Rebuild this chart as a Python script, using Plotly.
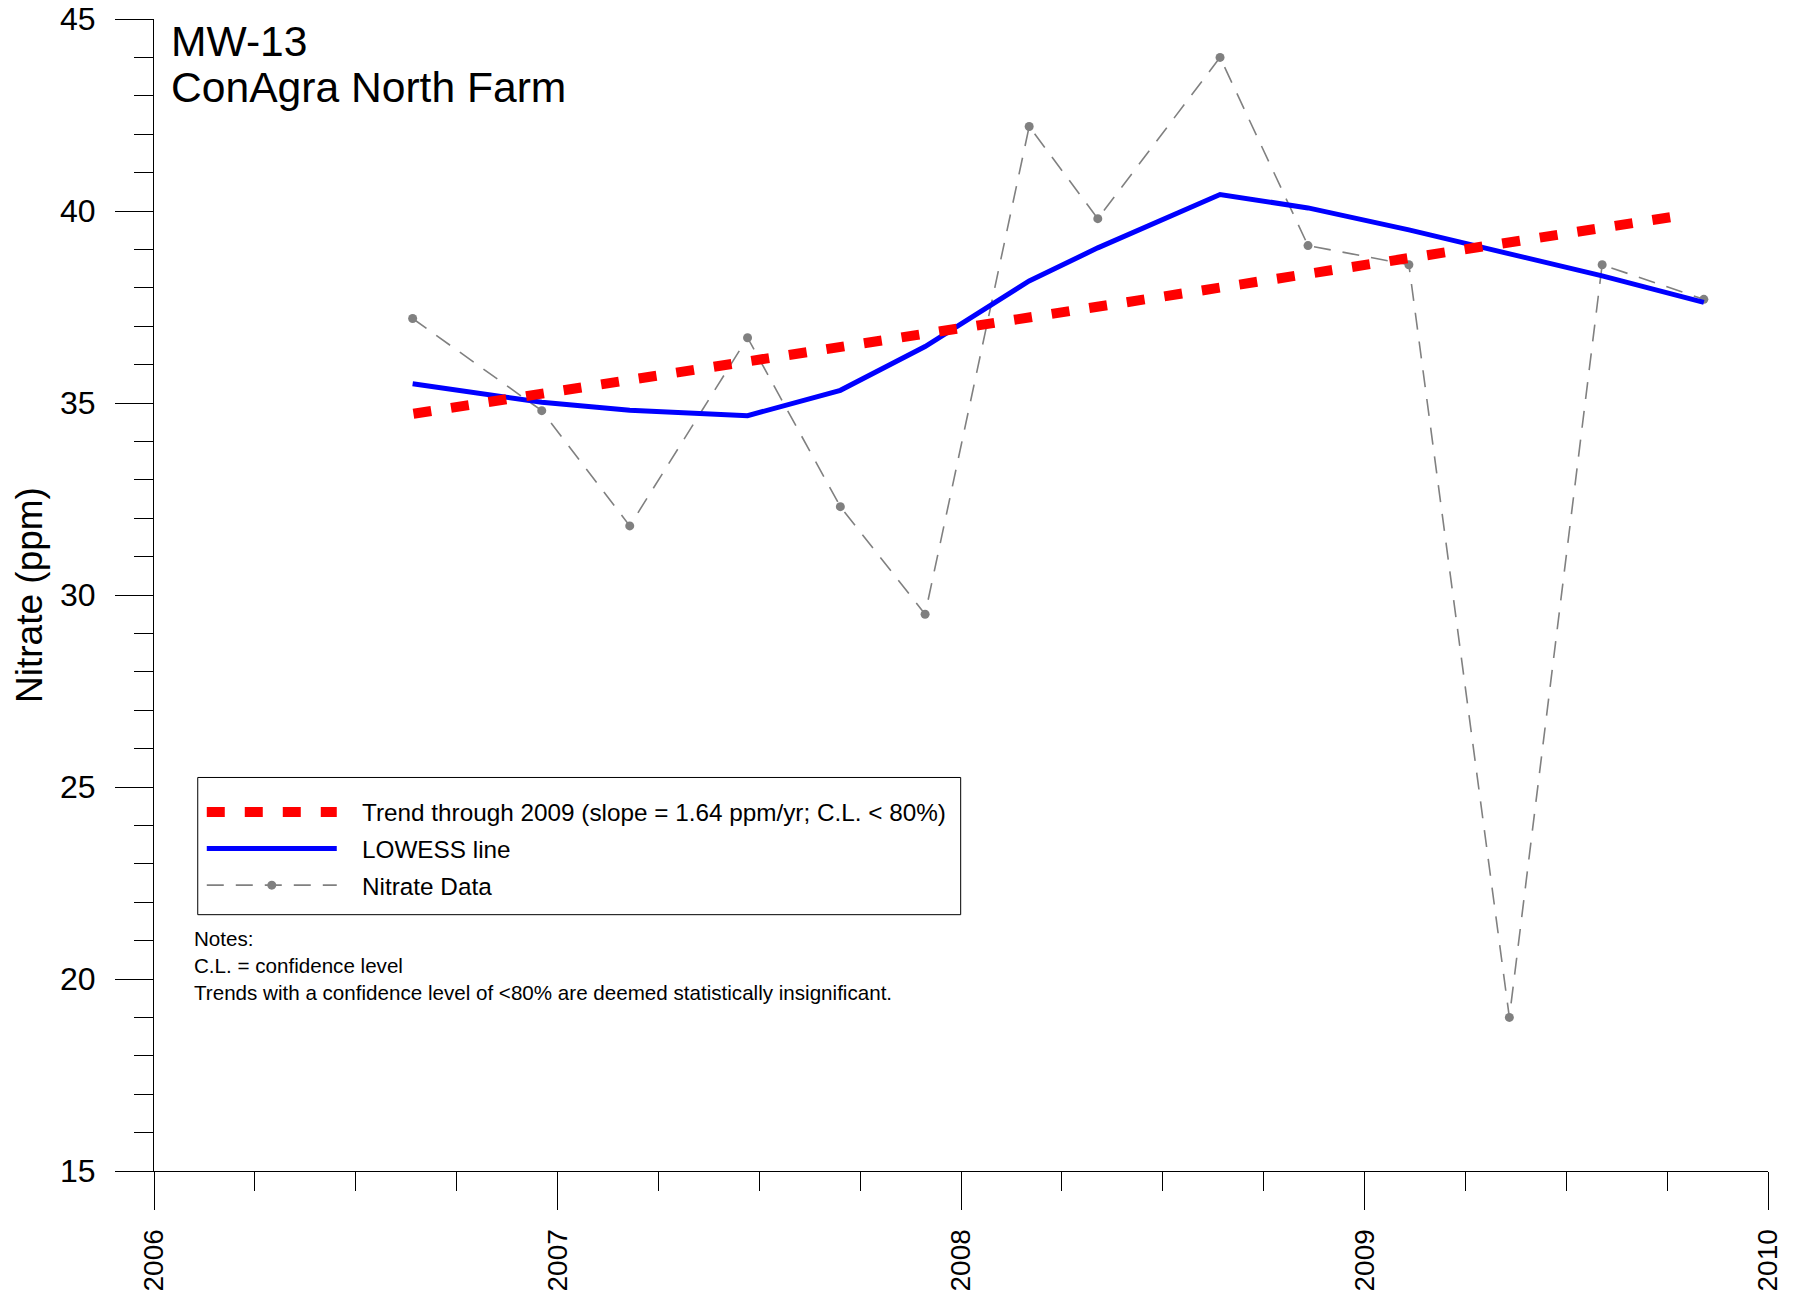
import plotly.graph_objects as go

FONT = "Arial, Liberation Sans, sans-serif"

# Nitrate samples at MW-13 (decimal year, ppm)
sample_year = [2006.641, 2006.961, 2007.179, 2007.471, 2007.701, 2007.911, 2008.169,
               2008.339, 2008.642, 2008.860, 2009.110, 2009.359, 2009.589, 2009.841]
nitrate_ppm = [37.2, 34.8, 31.8, 36.7, 32.3, 29.5, 42.2,
               39.8, 44.0, 39.1, 38.6, 19.0, 38.6, 37.7]

# LOWESS smooth evaluated at the sample dates
lowess_ppm = [35.50, 35.02, 34.81, 34.67, 35.33, 36.47, 38.18,
              39.04, 40.43, 40.08, 39.51, 38.90, 38.31, 37.62]

# Linear trend through 2009 (slope ~1.64 ppm/yr)
trend_year = [2006.643, 2009.795]
trend_ppm = [34.72, 39.90]

year_ticks = [2006, 2007, 2008, 2009, 2010]
ppm_ticks = [15, 20, 25, 30, 35, 40, 45]

NB = "\u00a0" * 3  # gap between legend symbol and label

fig = go.Figure()

fig.add_trace(go.Scatter(
    x=sample_year, y=nitrate_ppm,
    mode="lines+markers",
    name=NB + "Nitrate Data",
    legendgroup="c", legendrank=3,
    line=dict(color="#808080", width=1.6, dash="17px,12px"),
    marker=dict(color="#808080", size=9),
))

fig.add_trace(go.Scatter(
    x=sample_year, y=lowess_ppm,
    mode="lines",
    name=NB + "LOWESS line",
    legendgroup="b", legendrank=2,
    line=dict(color="#0000FF", width=5),
))

fig.add_trace(go.Scatter(
    x=trend_year, y=trend_ppm,
    mode="lines",
    name=NB + "Trend through 2009 (slope = 1.64 ppm/yr; C.L. < 80%)",
    legendgroup="a", legendrank=1,
    line=dict(color="#FF0000", width=10, dash="18px,20px"),
))

fig.update_layout(
    width=1793, height=1297,
    plot_bgcolor="white",
    paper_bgcolor="white",
    font=dict(family=FONT, color="black"),
    margin=dict(l=154, r=25, t=19, b=126, autoexpand=False),
    showlegend=True,
    legend=dict(
        x=0.0296, y=0.331, xanchor="left", yanchor="top",
        bgcolor="rgba(0,0,0,0)", borderwidth=0,
        font=dict(size=24.3, family=FONT),
        traceorder="grouped",
        tracegroupgap=2,
        itemwidth=130,
    ),
    xaxis=dict(
        range=[2006, 2010],
        tickmode="array", tickvals=year_ticks,
        ticks="outside", ticklen=38, tickwidth=1, tickcolor="black",
        showline=True, linecolor="black", linewidth=1,
        showgrid=False, zeroline=False,
        tickangle=-90, tickfont=dict(size=28),
        ticklabelstandoff=8,
        minor=dict(tick0=2006, dtick=0.25, ticks="outside", ticklen=19,
                   tickwidth=1, tickcolor="black", showgrid=False),
        automargin=False,
    ),
    yaxis=dict(
        range=[15, 45],
        tickmode="array", tickvals=ppm_ticks,
        ticks="outside", ticklen=38, tickwidth=1, tickcolor="black",
        showline=True, linecolor="black", linewidth=1,
        showgrid=False, zeroline=False,
        tickfont=dict(size=32),
        ticklabelstandoff=13,
        minor=dict(tick0=15, dtick=1, ticks="outside", ticklen=19,
                   tickwidth=1, tickcolor="black", showgrid=False),
        title=dict(text="Nitrate (ppm)", font=dict(size=37), standoff=6),
        automargin=False,
    ),
)

# legend frame
fig.add_shape(
    type="rect", xref="paper", yref="paper",
    x0=0.0271, x1=0.4998, y0=0.2225, y1=0.3416,
    line=dict(color="black", width=1), fillcolor="rgba(0,0,0,0)", layer="above",
)

fig.add_annotation(
    text="MW-13", xref="paper", yref="paper",
    x=0.0092, y=0.9812, xanchor="left", yanchor="middle",
    showarrow=False, font=dict(size=42.6),
)
fig.add_annotation(
    text="ConAgra North Farm", xref="paper", yref="paper",
    x=0.0092, y=0.9413, xanchor="left", yanchor="middle",
    showarrow=False, font=dict(size=42.6),
)
fig.add_annotation(
    text="Notes:<br>C.L. = confidence level<br>"
         "Trends with a confidence level of <80% are deemed statistically insignificant.",
    xref="paper", yref="paper",
    x=0.0237, y=0.178, xanchor="left", yanchor="middle", align="left",
    showarrow=False, font=dict(size=20.6),
)

fig.write_html(
    "out.html",
    config={"displayModeBar": False},
    post_script="document.body.style.margin='0px';",
)
